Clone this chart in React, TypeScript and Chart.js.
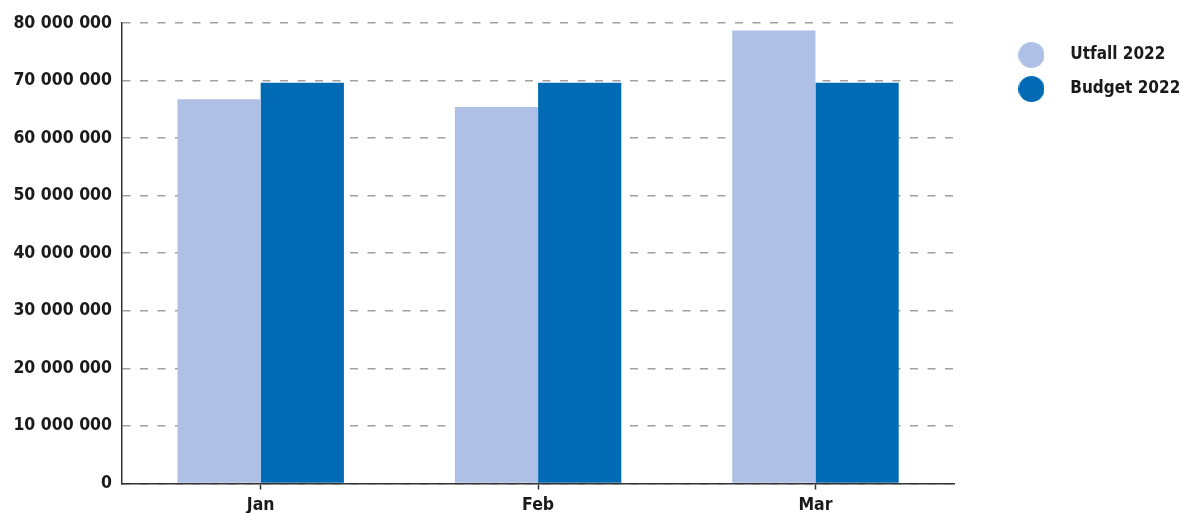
import React, { useEffect, useRef } from "react";
import { Chart, registerables } from "chart.js";

Chart.register(...registerables);

const categories = ["Jan", "Feb", "Mar"];
const seriesNames = ["Utfall 2022", "Budget 2022"];
const utfall2022 = [66750000, 65400000, 78700000];
const budget2022 = [69600000, 69600000, 69600000];
const seriesColors = ["#AEC0E6", "#006AB4"];
const yMin = 0;
const yMax = 80000000;
const yStep = 10000000;

const FONT_FAMILY = "'DejaVu Sans Condensed', 'DejaVu Sans', sans-serif";
const TEXT_COLOR = "#1a1a1a";
const AXIS_COLOR = "#333333";
const GRID_COLOR = "#a0a0a0";

function formatNumber(v: number): string {
  return String(Math.round(v)).replace(/\B(?=(\d{3})+(?!\d))/g, " ");
}

function makeCircle(color: string, size: number): HTMLCanvasElement {
  const c = document.createElement("canvas");
  c.width = size;
  c.height = size;
  const ctx = c.getContext("2d")!;
  ctx.fillStyle = color;
  ctx.beginPath();
  ctx.arc(size / 2, size / 2, size / 2, 0, Math.PI * 2);
  ctx.fill();
  return c;
}

export default function App() {
  const canvasRef = useRef<HTMLCanvasElement | null>(null);

  useEffect(() => {
    document.body.style.margin = "0";
    const canvas = canvasRef.current;
    if (!canvas) return;
    const circles = seriesColors.map((c) => makeCircle(c, 26));

    const chart = new Chart(canvas, {
      type: "bar",
      data: {
        labels: categories,
        datasets: [
          {
            label: seriesNames[0],
            data: utfall2022,
            backgroundColor: seriesColors[0],
            borderWidth: 0,
            categoryPercentage: 0.6,
            barPercentage: 1,
          },
          {
            label: seriesNames[1],
            data: budget2022,
            backgroundColor: seriesColors[1],
            borderWidth: 0,
            categoryPercentage: 0.6,
            barPercentage: 1,
          },
        ],
      },
      options: {
        responsive: false,
        animation: false,
        layout: { padding: { top: 23, left: 0, right: 0, bottom: 0 } },
        plugins: {
          tooltip: { enabled: false },
          legend: {
            position: "right",
            align: "start",
            title: { display: true, text: " ", font: { size: 6.5, lineHeight: 1 }, padding: 0 },
            labels: {
              usePointStyle: true,
              pointStyleWidth: 60.6,
              padding: 17,
              color: TEXT_COLOR,
              font: { family: FONT_FAMILY, size: 17, weight: "bold" },
              generateLabels: (ch: any) =>
                ch.data.datasets.map((ds: any, i: number) => ({
                  text: ds.label,
                  fillStyle: ds.backgroundColor,
                  strokeStyle: ds.backgroundColor,
                  lineWidth: 0,
                  pointStyle: circles[i],
                  hidden: false,
                  datasetIndex: i,
                  fontColor: TEXT_COLOR,
                })),
            },
          },
        },
        scales: {
          x: {
            grid: {
              display: true,
              drawOnChartArea: false,
              drawTicks: true,
              tickLength: 6,
              offset: false,
              tickColor: AXIS_COLOR,
              tickWidth: 1.5,
            },
            border: { display: true, color: AXIS_COLOR, width: 1.5 },
            ticks: {
              color: TEXT_COLOR,
              padding: 5,
              font: { family: FONT_FAMILY, size: 17.5, weight: "bold" },
            },
            afterFit: (s: any) => {
              s.height = 29.5;
            },
          },
          y: {
            min: yMin,
            max: yMax,
            grid: {
              color: GRID_COLOR,
              lineWidth: 1.6,
              drawTicks: false,
            },
            border: { display: true, color: AXIS_COLOR, width: 1.5, dash: [8, 9.5] },
            ticks: {
              stepSize: yStep,
              color: TEXT_COLOR,
              padding: 10,
              font: { family: FONT_FAMILY, size: 17.5, weight: "bold" },
              callback: (v: any) => formatNumber(Number(v)),
            },
            afterFit: (s: any) => {
              s.width = 122;
            },
          },
          yRight: {
            type: "linear",
            position: "right",
            display: true,
            grid: { display: false, drawTicks: false },
            border: { display: false },
            ticks: { display: false },
            afterFit: (s: any) => {
              s.width = 30;
            },
          },
        },
      },
    } as any);

    return () => chart.destroy();
  }, []);

  return (
    <div style={{ width: 1181, height: 513 }}>
      <canvas ref={canvasRef} width={1181} height={513} style={{ display: "block" }} />
    </div>
  );
}
